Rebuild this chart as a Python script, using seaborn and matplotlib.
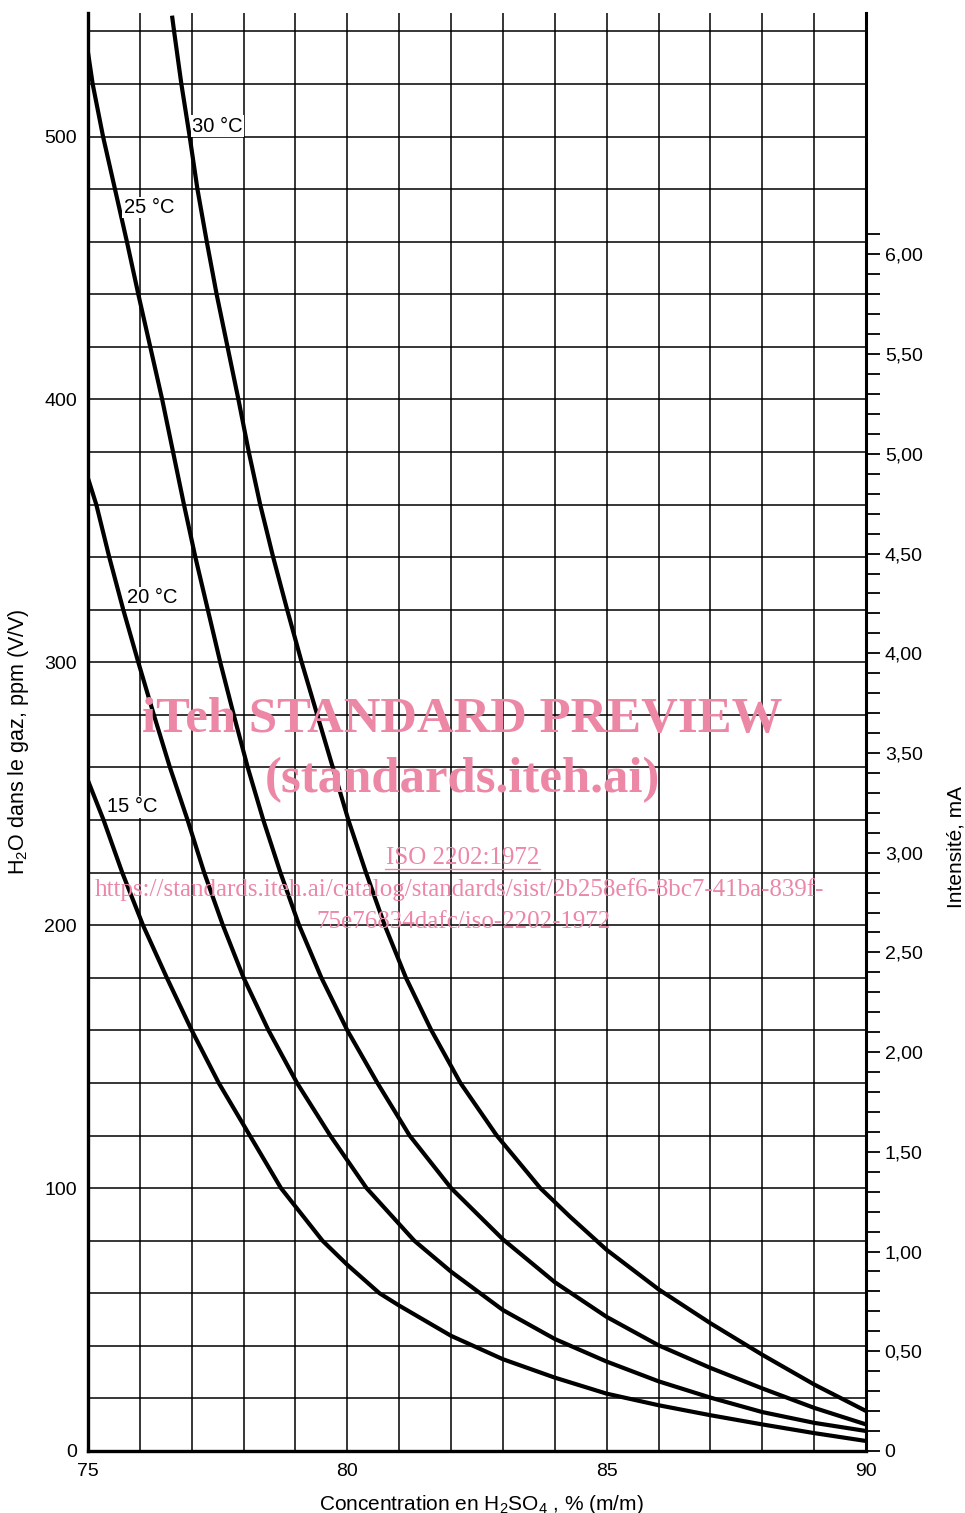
import numpy as np
import pandas as pd
import matplotlib
matplotlib.use('Agg')
import matplotlib.pyplot as plt
import seaborn as sns
from matplotlib.lines import Line2D

conc_15 = [75.0, 75.30, 75.66, 76.06, 76.52, 77.00, 77.52, 78.12, 78.72, 79.52, 80.0,
           80.62, 81.0, 82.0, 83.0, 84.0, 85.0, 86.0, 87.0, 88.0, 89.0, 90.0]
ppm_15 = [255, 240, 220, 200, 180, 160, 140, 120, 100, 80, 70.8,
          60, 55.3, 43.8, 34.9, 27.9, 21.8, 17.4, 13.6, 10.1, 6.8, 3.8]

conc_20 = [75.0, 75.16, 75.41, 75.68, 75.97, 76.27, 76.58, 76.92, 77.24, 77.60, 78.0,
           78.48, 79.03, 79.67, 80.37, 81.29, 82.0, 83.0, 84.0, 85.0, 86.0, 87.0,
           88.0, 89.0, 90.0]
ppm_20 = [370, 360, 340, 320, 300, 280, 260, 240, 220, 200, 180,
          160, 140, 120, 100, 80, 68.2, 53.6, 42.6, 34.0, 26.5, 20.3,
          14.8, 10.7, 7.6]

conc_25 = [75.0, 75.09, 75.29, 75.52, 75.75, 75.97, 76.20, 76.43, 76.64, 76.85, 77.07,
           77.31, 77.55, 77.81, 78.08, 78.38, 78.71, 79.07, 79.50, 80.00, 80.58, 81.20,
           82.0, 83.0, 84.0, 85.0, 86.0, 87.0, 88.0, 89.0, 90.0]
ppm_25 = [532, 520, 500, 480, 460, 440, 420, 400, 380, 360, 340,
          320, 300, 280, 260, 240, 220, 200, 180, 160, 140, 120,
          100, 80.5, 64.2, 51.0, 40.2, 31.6, 23.8, 16.4, 10.1]

conc_30 = [76.62, 76.66, 76.80, 76.96, 77.11, 77.29, 77.48, 77.69, 77.90, 78.10, 78.32,
           78.57, 78.84, 79.12, 79.42, 79.72, 80.02, 80.36, 80.72, 81.13, 81.62, 82.18,
           82.88, 83.72, 84.3, 85.0, 86.0, 87.0, 88.0, 89.0, 90.0]
ppm_30 = [546, 540, 520, 500, 480, 460, 440, 420, 400, 380, 360,
          340, 320, 300, 280, 260, 240, 220, 200, 180, 160, 140,
          120, 100, 89, 76.5, 61.5, 48.6, 36.6, 25.3, 15.2]

temperatures = ['15 °C', '20 °C', '25 °C', '30 °C']

x_ticks = [75, 80, 85, 90]
y_ticks = [0, 100, 200, 300, 400, 500]
ma_ticks = [0, 0.5, 1.0, 1.5, 2.0, 2.5, 3.0, 3.5, 4.0, 4.5, 5.0, 5.5, 6.0]
ma_labels = ['0', '0,50', '1,00', '1,50', '2,00', '2,50', '3,00', '3,50',
             '4,00', '4,50', '5,00', '5,50', '6,00']

# 1 mA correspond a environ 75,9 ppm sur l'abaque
MA_PER_PPM = 0.013182
PPM_TOP = 547

sns.set_style('white')
plt.rcParams['font.family'] = ['Liberation Sans', 'DejaVu Sans']
plt.rcParams['mathtext.fontset'] = 'custom'
plt.rcParams['mathtext.rm'] = 'Liberation Sans'
plt.rcParams['mathtext.it'] = 'Liberation Sans:italic'
plt.rcParams['mathtext.bf'] = 'Liberation Sans:bold'
for key in ['text.color', 'axes.labelcolor', 'xtick.color', 'ytick.color']:
    plt.rcParams[key] = 'black'

frames = []
for name, x, y in zip(temperatures, [conc_15, conc_20, conc_25, conc_30],
                      [ppm_15, ppm_20, ppm_25, ppm_30]):
    frames.append(pd.DataFrame({'conc': x, 'ppm': y, 'temp': name}))
df = pd.concat(frames, ignore_index=True)

fig = plt.figure(figsize=(9.65, 15.13), dpi=100)
ax = fig.add_axes([0.0912, 0.041, 0.8062, 0.9504])

sns.lineplot(data=df, x='conc', y='ppm', hue='temp', palette=['black'] * 4,
             estimator=None, sort=False, linewidth=3.0, legend=False, ax=ax, zorder=4)
for line in ax.get_lines():
    line.set_solid_joinstyle('round')
    line.set_solid_capstyle('butt')

ax.set_xlim(75, 90)
ax.set_ylim(0, PPM_TOP)
ax.set_xticks(x_ticks)
ax.set_xticks(np.arange(75, 91, 1), minor=True)
ax.set_yticks(y_ticks)
ax.set_yticks(np.arange(0, 541, 20), minor=True)
ax.grid(which='both', color='black', linewidth=1.1)
ax.tick_params(which='both', length=0)
ax.tick_params(axis='y', labelsize=14, pad=8)
ax.tick_params(axis='x', labelsize=14, pad=9)
for s in ['left', 'bottom']:
    ax.spines[s].set_linewidth(2.4)
    ax.spines[s].set_color('black')
ax.spines['top'].set_visible(False)
ax.spines['right'].set_visible(False)

ax.set_xlabel('Concentration en H$_2$SO$_4$ , % (m/m)', fontsize=15)
ax.set_ylabel('H$_2$O dans le gaz, ppm (V/V)', fontsize=15.5)
ax.xaxis.set_label_coords(0.505, -0.029)
ax.yaxis.set_label_coords(-0.073, 0.493)

# etiquettes des courbes
label_pos = {'15 °C': (75.37, 245), '20 °C': (75.75, 324.5),
             '25 °C': (75.69, 473), '30 °C': (77.01, 504)}
for name in temperatures:
    lx, ly = label_pos[name]
    ax.text(lx, ly, name, fontsize=14.5, ha='left', va='center', zorder=5,
            bbox=dict(facecolor='white', edgecolor='none', pad=1.0))

# axe de droite : intensite
ax2 = ax.twinx()
ax2.set_ylim(0, PPM_TOP * MA_PER_PPM)
ax2.set_yticks(ma_ticks)
ax2.set_yticklabels(ma_labels)
ax2.set_yticks(np.arange(0, 6.11, 0.1), minor=True)
ax2.tick_params(which='both', direction='out', length=10, width=1.3,
                labelsize=14, pad=3.5, right=True, left=False)
ax2.grid(False)
for s in ['top', 'left', 'bottom']:
    ax2.spines[s].set_visible(False)
ax2.spines['right'].set_linewidth(2.2)
ax2.spines['right'].set_color('black')
ax2.set_ylabel('Intensité, mA', fontsize=15)
ax2.yaxis.set_label_coords(1.103, 0.42)

# filigrane
pink = '#ec87a6'
serif = ['Liberation Serif', 'DejaVu Serif']
fig.text(0.479, 0.524, 'iTeh STANDARD PREVIEW', color=pink, fontsize=36.5,
         fontweight='bold', family=serif, ha='center', va='center')
fig.text(0.479, 0.4845, '(standards.iteh.ai)', color=pink, fontsize=36.5,
         fontweight='bold', family=serif, ha='center', va='center')
fig.text(0.4795, 0.433, 'ISO 2202:1972', color=pink, fontsize=18,
         family=serif, ha='center', va='center')
fig.add_artist(Line2D([0.399, 0.560], [0.4255, 0.4255], color=pink, linewidth=1.0))
fig.text(0.476, 0.4118,
         'https://standards.iteh.ai/catalog/standards/sist/2b258ef6-8bc7-41ba-839f-',
         color=pink, fontsize=18, family=serif, ha='center', va='center')
fig.text(0.48, 0.3906, '75e76834dafc/iso-2202-1972', color=pink, fontsize=18,
         family=serif, ha='center', va='center')

fig.savefig('out.png', dpi=100)
